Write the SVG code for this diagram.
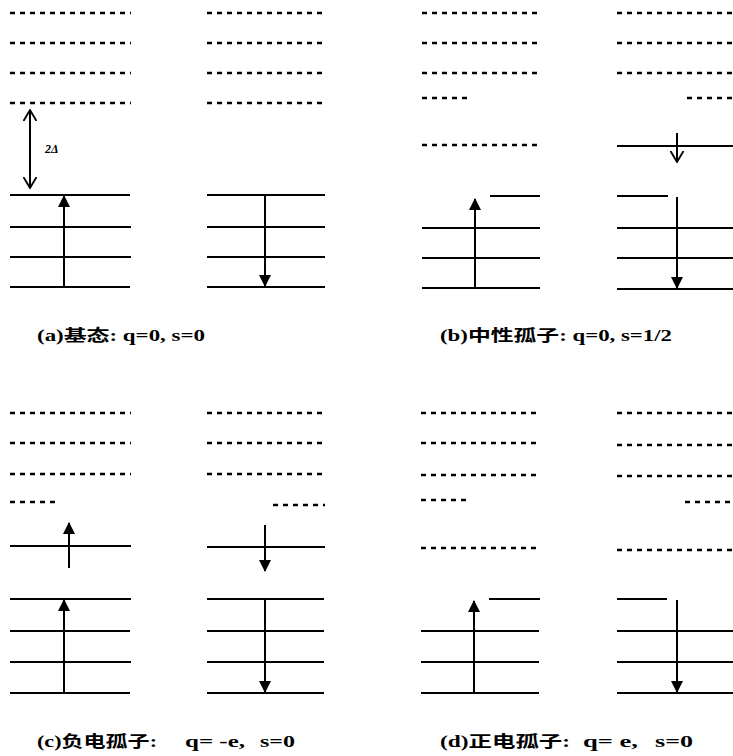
<svg xmlns="http://www.w3.org/2000/svg" width="733" height="756" viewBox="0 0 733 756">
<style>
.d{stroke:#000;stroke-width:2.4;stroke-dasharray:5 5;fill:none}
.s{stroke:#000;stroke-width:2.2;fill:none}
.a{stroke:#000;stroke-width:2;fill:none}
.t{font-family:"Liberation Serif","Noto Sans CJK SC",serif;font-weight:bold;font-size:16px;fill:#000}
</style>
<defs>
<marker id="fa" viewBox="0 0 12 12" refX="11" refY="6" markerWidth="12" markerHeight="12" markerUnits="userSpaceOnUse" orient="auto"><path d="M0,0 L12,6 L0,12 z" fill="#000"/></marker>
<marker id="oa" viewBox="0 0 12 14" refX="11" refY="7" markerWidth="12" markerHeight="14" markerUnits="userSpaceOnUse" orient="auto"><path d="M0,0.5 L11,7 L0,13.5" fill="none" stroke="#000" stroke-width="1.8"/></marker>
</defs>
<rect width="733" height="756" fill="#fff"/>

<g id="panel-a">
 <g id="a-left">
  <line class="d" x1="10" y1="13" x2="131" y2="13"/>
  <line class="d" x1="10" y1="43" x2="131" y2="43"/>
  <line class="d" x1="10" y1="73" x2="131" y2="73"/>
  <line class="d" x1="10" y1="103" x2="131" y2="103"/>
  <line class="s" x1="10" y1="195" x2="130" y2="195"/>
  <line class="s" x1="10" y1="227" x2="131" y2="227"/>
  <line class="s" x1="10" y1="257" x2="131" y2="257"/>
  <line class="s" x1="10" y1="287" x2="130" y2="287"/>
  <text x="45" y="153" font-family="Liberation Serif,serif" font-style="italic" font-weight="bold" font-size="12">2Δ</text>
 </g>
 <g id="a-right">
  <line class="d" x1="207" y1="13" x2="325" y2="13"/>
  <line class="d" x1="207" y1="43" x2="325" y2="43"/>
  <line class="d" x1="207" y1="73" x2="325" y2="73"/>
  <line class="d" x1="207" y1="103" x2="325" y2="103"/>
  <line class="s" x1="207" y1="195" x2="325" y2="195"/>
  <line class="s" x1="207" y1="227" x2="325" y2="227"/>
  <line class="s" x1="207" y1="257" x2="325" y2="257"/>
  <line class="s" x1="207" y1="287" x2="325" y2="287"/>
 </g>
</g>

<g id="panel-b">
 <g id="b-left">
  <line class="d" x1="422" y1="13" x2="541" y2="13"/>
  <line class="d" x1="422" y1="43" x2="541" y2="43"/>
  <line class="d" x1="422" y1="73" x2="541" y2="73"/>
  <line class="d" x1="422" y1="98" x2="472" y2="98"/>
  <line class="d" x1="422" y1="145" x2="541" y2="145"/>
  <line class="s" x1="490" y1="196" x2="540" y2="196"/>
  <line class="s" x1="422" y1="228" x2="540" y2="228"/>
  <line class="s" x1="422" y1="258" x2="540" y2="258"/>
  <line class="s" x1="422" y1="288" x2="540" y2="288"/>
 </g>
 <g id="b-right">
  <line class="d" x1="617" y1="13" x2="733" y2="13"/>
  <line class="d" x1="617" y1="43" x2="733" y2="43"/>
  <line class="d" x1="617" y1="73" x2="733" y2="73"/>
  <line class="d" x1="687" y1="98" x2="733" y2="98"/>
  <line class="s" x1="617" y1="146" x2="733" y2="146"/>
  <line class="s" x1="617" y1="196" x2="668" y2="196"/>
  <line class="s" x1="617" y1="228" x2="733" y2="228"/>
  <line class="s" x1="617" y1="258" x2="733" y2="258"/>
  <line class="s" x1="617" y1="289" x2="733" y2="289"/>
 </g>
</g>

<g id="panel-c">
 <g id="c-left">
  <line class="d" x1="10" y1="413" x2="131" y2="413"/>
  <line class="d" x1="10" y1="443" x2="131" y2="443"/>
  <line class="d" x1="10" y1="474" x2="131" y2="474"/>
  <line class="d" x1="10" y1="502" x2="60" y2="502"/>
  <line class="s" x1="10" y1="546" x2="131" y2="546"/>
  <line class="s" x1="10" y1="599" x2="131" y2="599"/>
  <line class="s" x1="10" y1="631" x2="130" y2="631"/>
  <line class="s" x1="10" y1="662" x2="131" y2="662"/>
  <line class="s" x1="10" y1="693" x2="130" y2="693"/>
 </g>
 <g id="c-right">
  <line class="d" x1="207" y1="413" x2="325" y2="413"/>
  <line class="d" x1="207" y1="443" x2="325" y2="443"/>
  <line class="d" x1="207" y1="474" x2="325" y2="474"/>
  <line class="d" x1="273" y1="505" x2="325" y2="505"/>
  <line class="s" x1="207" y1="547" x2="325" y2="547"/>
  <line class="s" x1="207" y1="599" x2="324" y2="599"/>
  <line class="s" x1="207" y1="631" x2="324" y2="631"/>
  <line class="s" x1="207" y1="662" x2="324" y2="662"/>
  <line class="s" x1="207" y1="693" x2="324" y2="693"/>
 </g>
</g>

<g id="panel-d">
 <g id="d-left">
  <line class="d" x1="421" y1="413" x2="540" y2="413"/>
  <line class="d" x1="421" y1="443" x2="540" y2="443"/>
  <line class="d" x1="421" y1="475" x2="540" y2="475"/>
  <line class="d" x1="421" y1="500" x2="471" y2="500"/>
  <line class="d" x1="421" y1="548" x2="540" y2="548"/>
  <line class="s" x1="489" y1="599" x2="540" y2="599"/>
  <line class="s" x1="421" y1="631" x2="539" y2="631"/>
  <line class="s" x1="421" y1="662" x2="539" y2="662"/>
  <line class="s" x1="421" y1="693" x2="539" y2="693"/>
 </g>
 <g id="d-right">
  <line class="d" x1="617" y1="413" x2="733" y2="413"/>
  <line class="d" x1="617" y1="445" x2="733" y2="445"/>
  <line class="d" x1="617" y1="476" x2="733" y2="476"/>
  <line class="d" x1="685" y1="502" x2="733" y2="502"/>
  <line class="d" x1="617" y1="550" x2="733" y2="550"/>
  <line class="s" x1="617" y1="599" x2="667" y2="599"/>
  <line class="s" x1="617" y1="631" x2="733" y2="631"/>
  <line class="s" x1="617" y1="662" x2="733" y2="662"/>
  <line class="s" x1="617" y1="693" x2="733" y2="693"/>
 </g>
</g>

<g id="connectors">
  <line class="a" x1="30" y1="177" x2="30" y2="110" marker-end="url(#oa)"/>
  <line class="a" x1="30" y1="120" x2="30" y2="188" marker-end="url(#oa)"/>
  <line class="a" x1="64" y1="287" x2="64" y2="196" marker-end="url(#fa)"/>
  <line class="a" x1="265" y1="195" x2="265" y2="286" marker-end="url(#fa)"/>
  <line class="a" x1="475" y1="288" x2="475" y2="199" marker-end="url(#fa)"/>
  <line class="a" x1="677" y1="133" x2="677" y2="162" marker-end="url(#oa)"/>
  <line class="a" x1="677" y1="197" x2="677" y2="288" marker-end="url(#fa)"/>
  <line class="a" x1="69" y1="568" x2="69" y2="523" marker-end="url(#fa)"/>
  <line class="a" x1="64" y1="693" x2="64" y2="600" marker-end="url(#fa)"/>
  <line class="a" x1="265" y1="525" x2="265" y2="571" marker-end="url(#fa)"/>
  <line class="a" x1="265" y1="599" x2="265" y2="692" marker-end="url(#fa)"/>
  <line class="a" x1="474" y1="693" x2="474" y2="601" marker-end="url(#fa)"/>
  <line class="a" x1="677" y1="600" x2="677" y2="692" marker-end="url(#fa)"/>
</g>

<g id="labels">
  <text class="t" x="37" y="341" textLength="168" lengthAdjust="spacingAndGlyphs">(a)基态: q=0, s=0</text>
  <text class="t" x="440" y="341" textLength="232" lengthAdjust="spacingAndGlyphs">(b)中性孤子: q=0, s=1/2</text>
  <text class="t" y="747"><tspan x="37" textLength="120" lengthAdjust="spacingAndGlyphs">(c)负电孤子:</tspan><tspan x="185" textLength="60" lengthAdjust="spacingAndGlyphs">q= -e,</tspan><tspan x="260" textLength="35" lengthAdjust="spacingAndGlyphs">s=0</tspan></text>
  <text class="t" y="747"><tspan x="440" textLength="130" lengthAdjust="spacingAndGlyphs">(d)正电孤子:</tspan><tspan x="583" textLength="55" lengthAdjust="spacingAndGlyphs">q= e,</tspan><tspan x="655" textLength="38" lengthAdjust="spacingAndGlyphs">s=0</tspan></text>
</g>
</svg>
